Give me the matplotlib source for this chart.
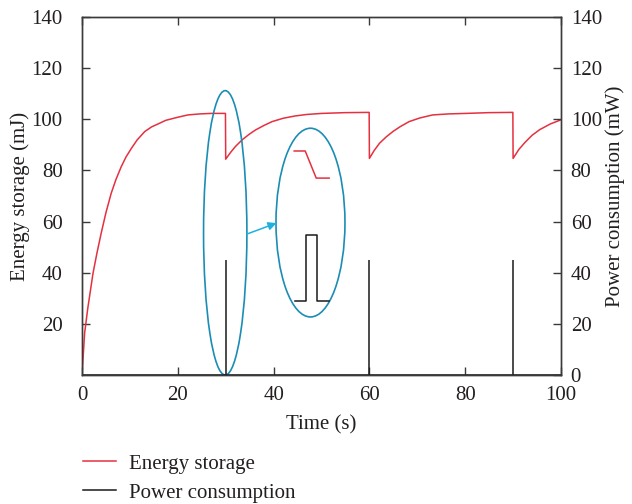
import matplotlib
matplotlib.use("Agg")
import matplotlib.pyplot as plt
from matplotlib.patches import Ellipse
from matplotlib.lines import Line2D

plt.rcParams['font.family'] = ['Liberation Serif', 'DejaVu Serif']
plt.rcParams['font.size'] = 15

# Energy storage (mJ) over time (s): charging, then drops at each consumption event
energy_time = [0, 0.55, 1.2, 2.3, 3.1, 4.0, 5.0, 6.1, 7.1, 8.2, 9.2, 10.3, 11.5, 13.1, 14.5,
               15.9, 17.5, 20.0, 22.1, 24.6, 27.0, 29.95,
               30.0, 31.0, 32.0, 33.4, 34.8, 36.2, 38.0, 39.7, 42.0, 44.5, 47.0, 50.1, 55.0, 59.95,
               60.0, 61.0, 62.1, 63.5, 64.9, 66.5, 68.3, 70.5, 73.2, 76.5, 80.2, 85.0, 89.95,
               90.0, 91.2, 92.5, 94.0, 95.6, 97.8, 100.0]
energy_value = [0, 16.4, 26.0, 39.8, 47.5, 55.4, 63.5, 71.1, 76.5, 81.5, 85.3, 88.6, 91.9, 95.2, 97.0,
                98.2, 99.6, 100.8, 101.7, 102.1, 102.3, 102.3,
                84.4, 87.0, 89.3, 91.9, 94.0, 95.8, 97.6, 99.1, 100.4, 101.3, 101.9, 102.3, 102.6, 102.7,
                84.7, 87.8, 90.6, 93.1, 95.2, 97.2, 99.1, 100.5, 101.7, 102.1, 102.3, 102.6, 102.7,
                84.7, 88.2, 91.0, 93.8, 96.0, 98.2, 99.8]

# Power consumption (mW): short pulses
pulse_time = [30, 60, 90]
pulse_power = [45, 45, 45]

# Zoomed sketch of one event (drawn in energy-axis units)
inset_energy_x = [44.3, 46.6, 48.9, 51.6]
inset_energy_y = [87.6, 87.6, 77.0, 77.0]
inset_power_x = [44.5, 46.8, 46.8, 49.1, 49.1, 51.6]
inset_power_y = [28.9, 28.9, 54.8, 54.8, 28.9, 28.9]

x_ticks = [0, 20, 40, 60, 80, 100]
left_ticks = [20, 40, 60, 80, 100, 120, 140]
right_ticks = [0, 20, 40, 60, 80, 100, 120, 140]

red = '#e5303f'
black = '#1a1a1a'
ring = '#1b8db5'
arrow_c = '#1fb0e0'
spine_c = '#3a3a3a'
text_c = '#231f20'

fig = plt.figure(figsize=(6.32, 5.04), dpi=100)
ax = fig.add_axes([82 / 632, 1 - 375 / 504, (561 - 82) / 632, (375 - 17) / 504])
ax2 = ax.twinx()

ax.plot(energy_time, energy_value, color=red, lw=1.1, zorder=3)
ax2.vlines(pulse_time, 0, pulse_power, color=black, lw=1.1)
ax2.plot([0, 100], [0, 0], color=black, lw=1.1)

ax.set_xlim(0, 100)
ax.set_ylim(0, 140)
ax2.set_ylim(0, 140)
ax.set_xticks(x_ticks)
ax.set_yticks(left_ticks)
ax2.set_yticks(right_ticks)

for a in (ax, ax2):
    for s in a.spines.values():
        s.set_color(spine_c)
        s.set_linewidth(1.0)
ax.tick_params(axis='both', direction='in', length=6, width=1.0, color=spine_c,
               labelcolor=text_c, labelsize=15)
ax.tick_params(axis='x', top=True, pad=8)
ax.tick_params(axis='y', right=False, pad=14)
ax2.tick_params(axis='y', direction='in', length=6, width=1.0, color=spine_c,
                labelcolor=text_c, labelsize=15, pad=7)

ax.set_xlabel('Time (s)', color=text_c, labelpad=7, fontsize=15)
ax.set_ylabel('Energy storage (mJ)', color=text_c, fontsize=15)
ax2.set_ylabel('Power consumption (mW)', color=text_c, fontsize=15)
ax.yaxis.set_label_coords(-0.108, 0.5)
ax2.yaxis.set_label_coords(1.093, 0.5)

# Highlight of one event and its magnified view
ax.add_patch(Ellipse((29.9, 55.6), 9.05, 111.2, fill=False, edgecolor=ring, lw=1.2, zorder=4))
ax.add_patch(Ellipse((47.7, 59.6), 14.4, 73.8, fill=False, edgecolor=ring, lw=1.2, zorder=4))
ax.plot(inset_energy_x, inset_energy_y, color=red, lw=1.1, zorder=4)
ax.plot(inset_power_x, inset_power_y, color=black, lw=1.1, zorder=4)
ax.annotate('', xy=(40.6, 59.4), xytext=(34.4, 55.1),
            arrowprops=dict(arrowstyle='-|>', color=arrow_c, lw=1.1,
                            mutation_scale=12, shrinkA=0, shrinkB=0), zorder=5)

handles = [Line2D([], [], color=red, lw=1.1), Line2D([], [], color=black, lw=1.1)]
fig.legend(handles, ['Energy storage', 'Power consumption'], loc='upper left',
           bbox_to_anchor=(83 / 632, 1 - 454 / 504), frameon=False, borderpad=0,
           borderaxespad=0, handlelength=1.6, handletextpad=0.6, labelspacing=0.45,
           fontsize=15, labelcolor=text_c)

fig.savefig('out.png', dpi=100)
